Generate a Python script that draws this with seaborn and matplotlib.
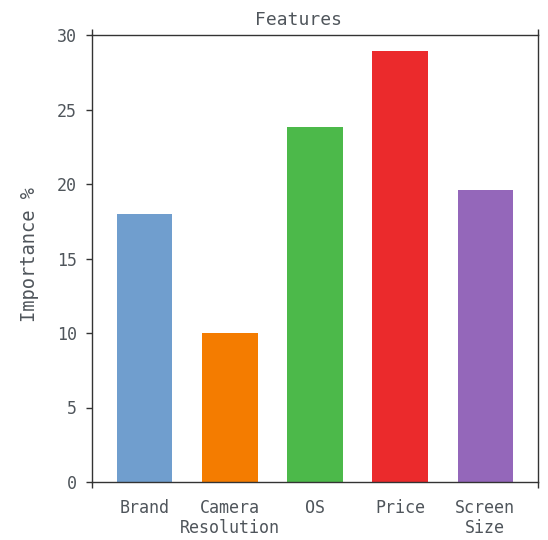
import matplotlib
matplotlib.use("Agg")
import matplotlib.pyplot as plt
import seaborn as sns
import pandas as pd

# Feature importance data
features = ["Brand", "Camera\nResolution", "OS", "Price", "Screen\nSize"]
importance = [18.0, 10.0, 23.8, 28.9, 19.6]
bar_colors = ["#709ECE", "#F47C00", "#4CB94A", "#EB2A2C", "#9467BA"]
y_ticks = [0, 5, 10, 15, 20, 25, 30]

sns.set_theme(style="white")
plt.rcParams["font.family"] = ["DejaVu Sans Mono", "DejaVu Sans"]

text_color = "#4f555b"
spine_color = "#333333"

df = pd.DataFrame({"feature": features, "importance": importance})

fig = plt.figure(figsize=(5.48, 5.40), dpi=100)
ax = fig.add_axes([92 / 548, 1 - 482 / 540, (538 - 92) / 548, (482 - 35) / 540])

sns.barplot(data=df, x="feature", y="importance", hue="feature",
            palette=bar_colors, width=0.65, legend=False, ax=ax,
            saturation=1, edgecolor="none")

ax.set_xlim(-0.62, 4.62)
ax.set_ylim(0, 30)
ax.set_yticks(y_ticks)
ax.set_yticklabels([str(t) for t in y_ticks])

for side in ["left", "right", "top", "bottom"]:
    ax.spines[side].set_visible(True)
    ax.spines[side].set_color(spine_color)
    ax.spines[side].set_linewidth(1.0)

ax.tick_params(axis="y", left=True, length=4, width=1, color=spine_color,
               labelsize=12, labelcolor=text_color, pad=7)
ax.tick_params(axis="x", which="major", bottom=False, top=False,
               labelsize=12, labelcolor=text_color, pad=6)
# small corner ticks at the ends of the x axis
ax.set_xticks([-0.62, 4.62], minor=True)
ax.tick_params(axis="x", which="minor", bottom=True, top=True, length=4,
               width=1, color=spine_color)

ax.set_xlabel("")
ax.set_ylabel("Importance %", fontsize=13.5, color=text_color)
ax.yaxis.set_label_coords(-0.118, 0.51)
ax.set_title("Features", fontsize=13, color=text_color, pad=7, x=0.462)

fig.savefig("out.png", dpi=100)
